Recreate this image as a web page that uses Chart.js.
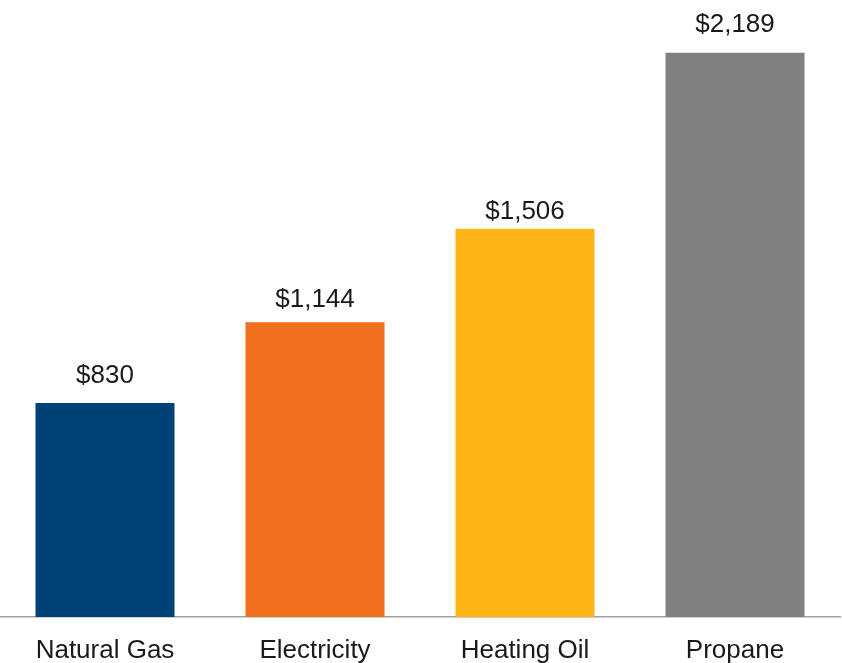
<!DOCTYPE html>
<html>
<head>
<meta charset="utf-8">
<script src="https://cdn.jsdelivr.net/npm/chart.js@4.4.0/dist/chart.umd.min.js"></script>
<style>
  html, body { margin:0; padding:0; background:#fff; }
  #wrap { width:842px; height:663px; position:relative; }
</style>
</head>
<body>
<div id="wrap"><canvas id="costChart" width="842" height="663"></canvas></div>
<script>
const categories = ['Natural Gas', 'Electricity', 'Heating Oil', 'Propane'];
const costs = [830, 1144, 1506, 2189];
const barColors = ['#004178', '#F37021', '#FDB515', '#808080'];

const fmt = v => '$' + v.toLocaleString('en-US');

// valeurs au-dessus des barres
const valueLabels = {
  id: 'valueLabels',
  afterDatasetsDraw(chart) {
    const ctx = chart.ctx;
    const meta = chart.getDatasetMeta(0);
    const gap = [20, 15, 10, 21]; // écart texte/barre, comme sur l'original
    ctx.save();
    ctx.font = '26px "Liberation Sans", Arial, sans-serif';
    ctx.fillStyle = '#1a1a1a';
    ctx.textAlign = 'center';
    ctx.textBaseline = 'alphabetic';
    meta.data.forEach((bar, i) => { ctx.fillText(fmt(costs[i]), bar.x, bar.y - gap[i]); });
    ctx.restore();
  }
};

new Chart(document.getElementById('costChart'), {
  type: 'bar',
  data: { labels: categories, datasets: [{ data: costs, backgroundColor: barColors, borderWidth: 0, barPercentage: 0.662, categoryPercentage: 1 }] },
  options: {
    responsive: false, animation: false,
    layout: { padding: { top: 50, right: 2, left: 0, bottom: 0 } },
    plugins: { legend: { display: false }, tooltip: { enabled: false } },
    scales: {
      x: {
        afterFit: s => { s.height = 46; },
        grid: { display: false, drawTicks: false },
        border: { display: true, color: '#a0a0a0', width: 1.5 },
        ticks: { color: '#1a1a1a', padding: 18, font: { family: '"Liberation Sans", Arial, sans-serif', size: 26 } }
      },
      y: { display: false, min: 0, max: 2200 }
    }
  },
  plugins: [valueLabels]
});
</script>
</body>
</html>
